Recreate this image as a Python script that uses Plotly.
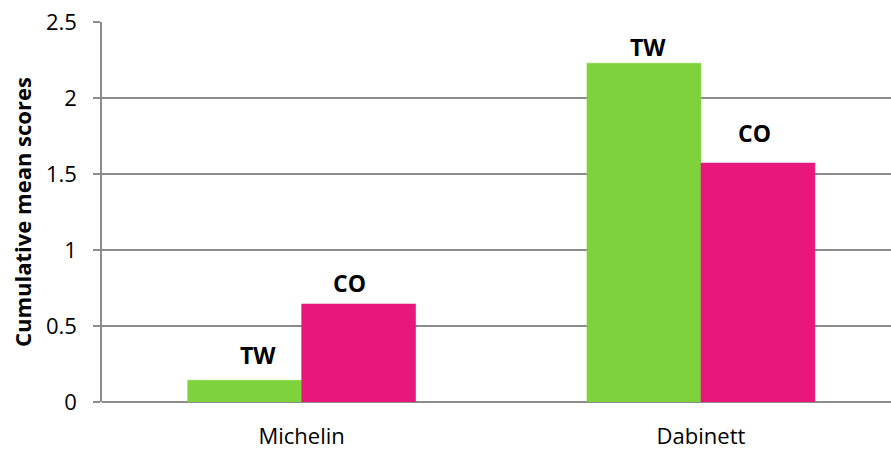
import plotly.graph_objects as go

# Cumulative mean scores by cultivar and treatment
cultivars = ["Michelin", "Dabinett"]
series_names = ["TW", "CO"]
tw_scores = [0.143, 2.229]
co_scores = [0.645, 1.572]
series_colors = ["#7ED23B", "#E8177B"]
y_ticks = [0, 0.5, 1, 1.5, 2, 2.5]
y_tick_labels = ["0", "0.5", "1", "1.5", "2", "2.5"]
y_title = "Cumulative mean scores"

FONT = "Open Sans"
GRID = "#8C8C8C"
MARGIN_L, MARGIN_R = 102, 0
PLOT_W = 891 - MARGIN_L - MARGIN_R

fig = go.Figure()
for name, vals, col in zip(series_names, [tw_scores, co_scores], series_colors):
    fig.add_trace(go.Bar(
        x=list(range(len(cultivars))), y=vals, name=name,
        marker=dict(color=col, line=dict(color=col, width=0.5)),
        hoverinfo="skip",
    ))

# Series-name labels above each bar (offsets as laid out in the chart)
bar_w = 0.286
label_shift = {
    "TW": [(13, 25), (4, 16)],
    "CO": [(-9, 21), (-4, 30)],
}
for k, (name, vals) in enumerate(zip(series_names, [tw_scores, co_scores])):
    off = (k - 0.5) * bar_w
    for i, v in enumerate(vals):
        dx, dy = label_shift[name][i]
        fig.add_annotation(
            x=i + off, y=v, xref="x", yref="y", text=f"<b>{name}</b>",
            showarrow=False, xshift=dx, yshift=dy,
            font=dict(family=FONT, size=23, color="#000000"),
        )

# Rotated y-axis title, centred 22 px from the left edge
fig.add_annotation(
    x=-(MARGIN_L - 22) / PLOT_W, y=0.5, xref="paper", yref="paper",
    text=f"<b>{y_title}</b>", textangle=-90, showarrow=False,
    xanchor="center", yanchor="middle",
    font=dict(family=FONT, size=22, color="#000000"),
)

fig.update_layout(
    width=891, height=450,
    margin=dict(l=MARGIN_L, r=MARGIN_R, t=22, b=48),
    paper_bgcolor="white", plot_bgcolor="white",
    barmode="group", bargap=0.429, bargroupgap=0,
    showlegend=False,
    font=dict(family=FONT, size=22, color="#000000"),
    xaxis=dict(
        range=[-0.5, 1.476],
        tickmode="array", tickvals=list(range(len(cultivars))), ticktext=cultivars,
        showgrid=False, zeroline=False, showline=False, ticks="",
        ticklabelstandoff=19,
        tickfont=dict(family=FONT, size=22),
    ),
    yaxis=dict(
        range=[0, 2.5],
        tickmode="array", tickvals=y_ticks, ticktext=y_tick_labels,
        showgrid=True, gridcolor=GRID, gridwidth=1.5,
        zeroline=True, zerolinecolor=GRID, zerolinewidth=1.5,
        showline=True, linecolor=GRID, linewidth=1.5,
        ticks="outside", ticklen=7, tickcolor=GRID, tickwidth=1.5,
        ticklabelstandoff=12,
        tickfont=dict(family=FONT, size=22),
    ),
)

fig.write_html("out.html")
